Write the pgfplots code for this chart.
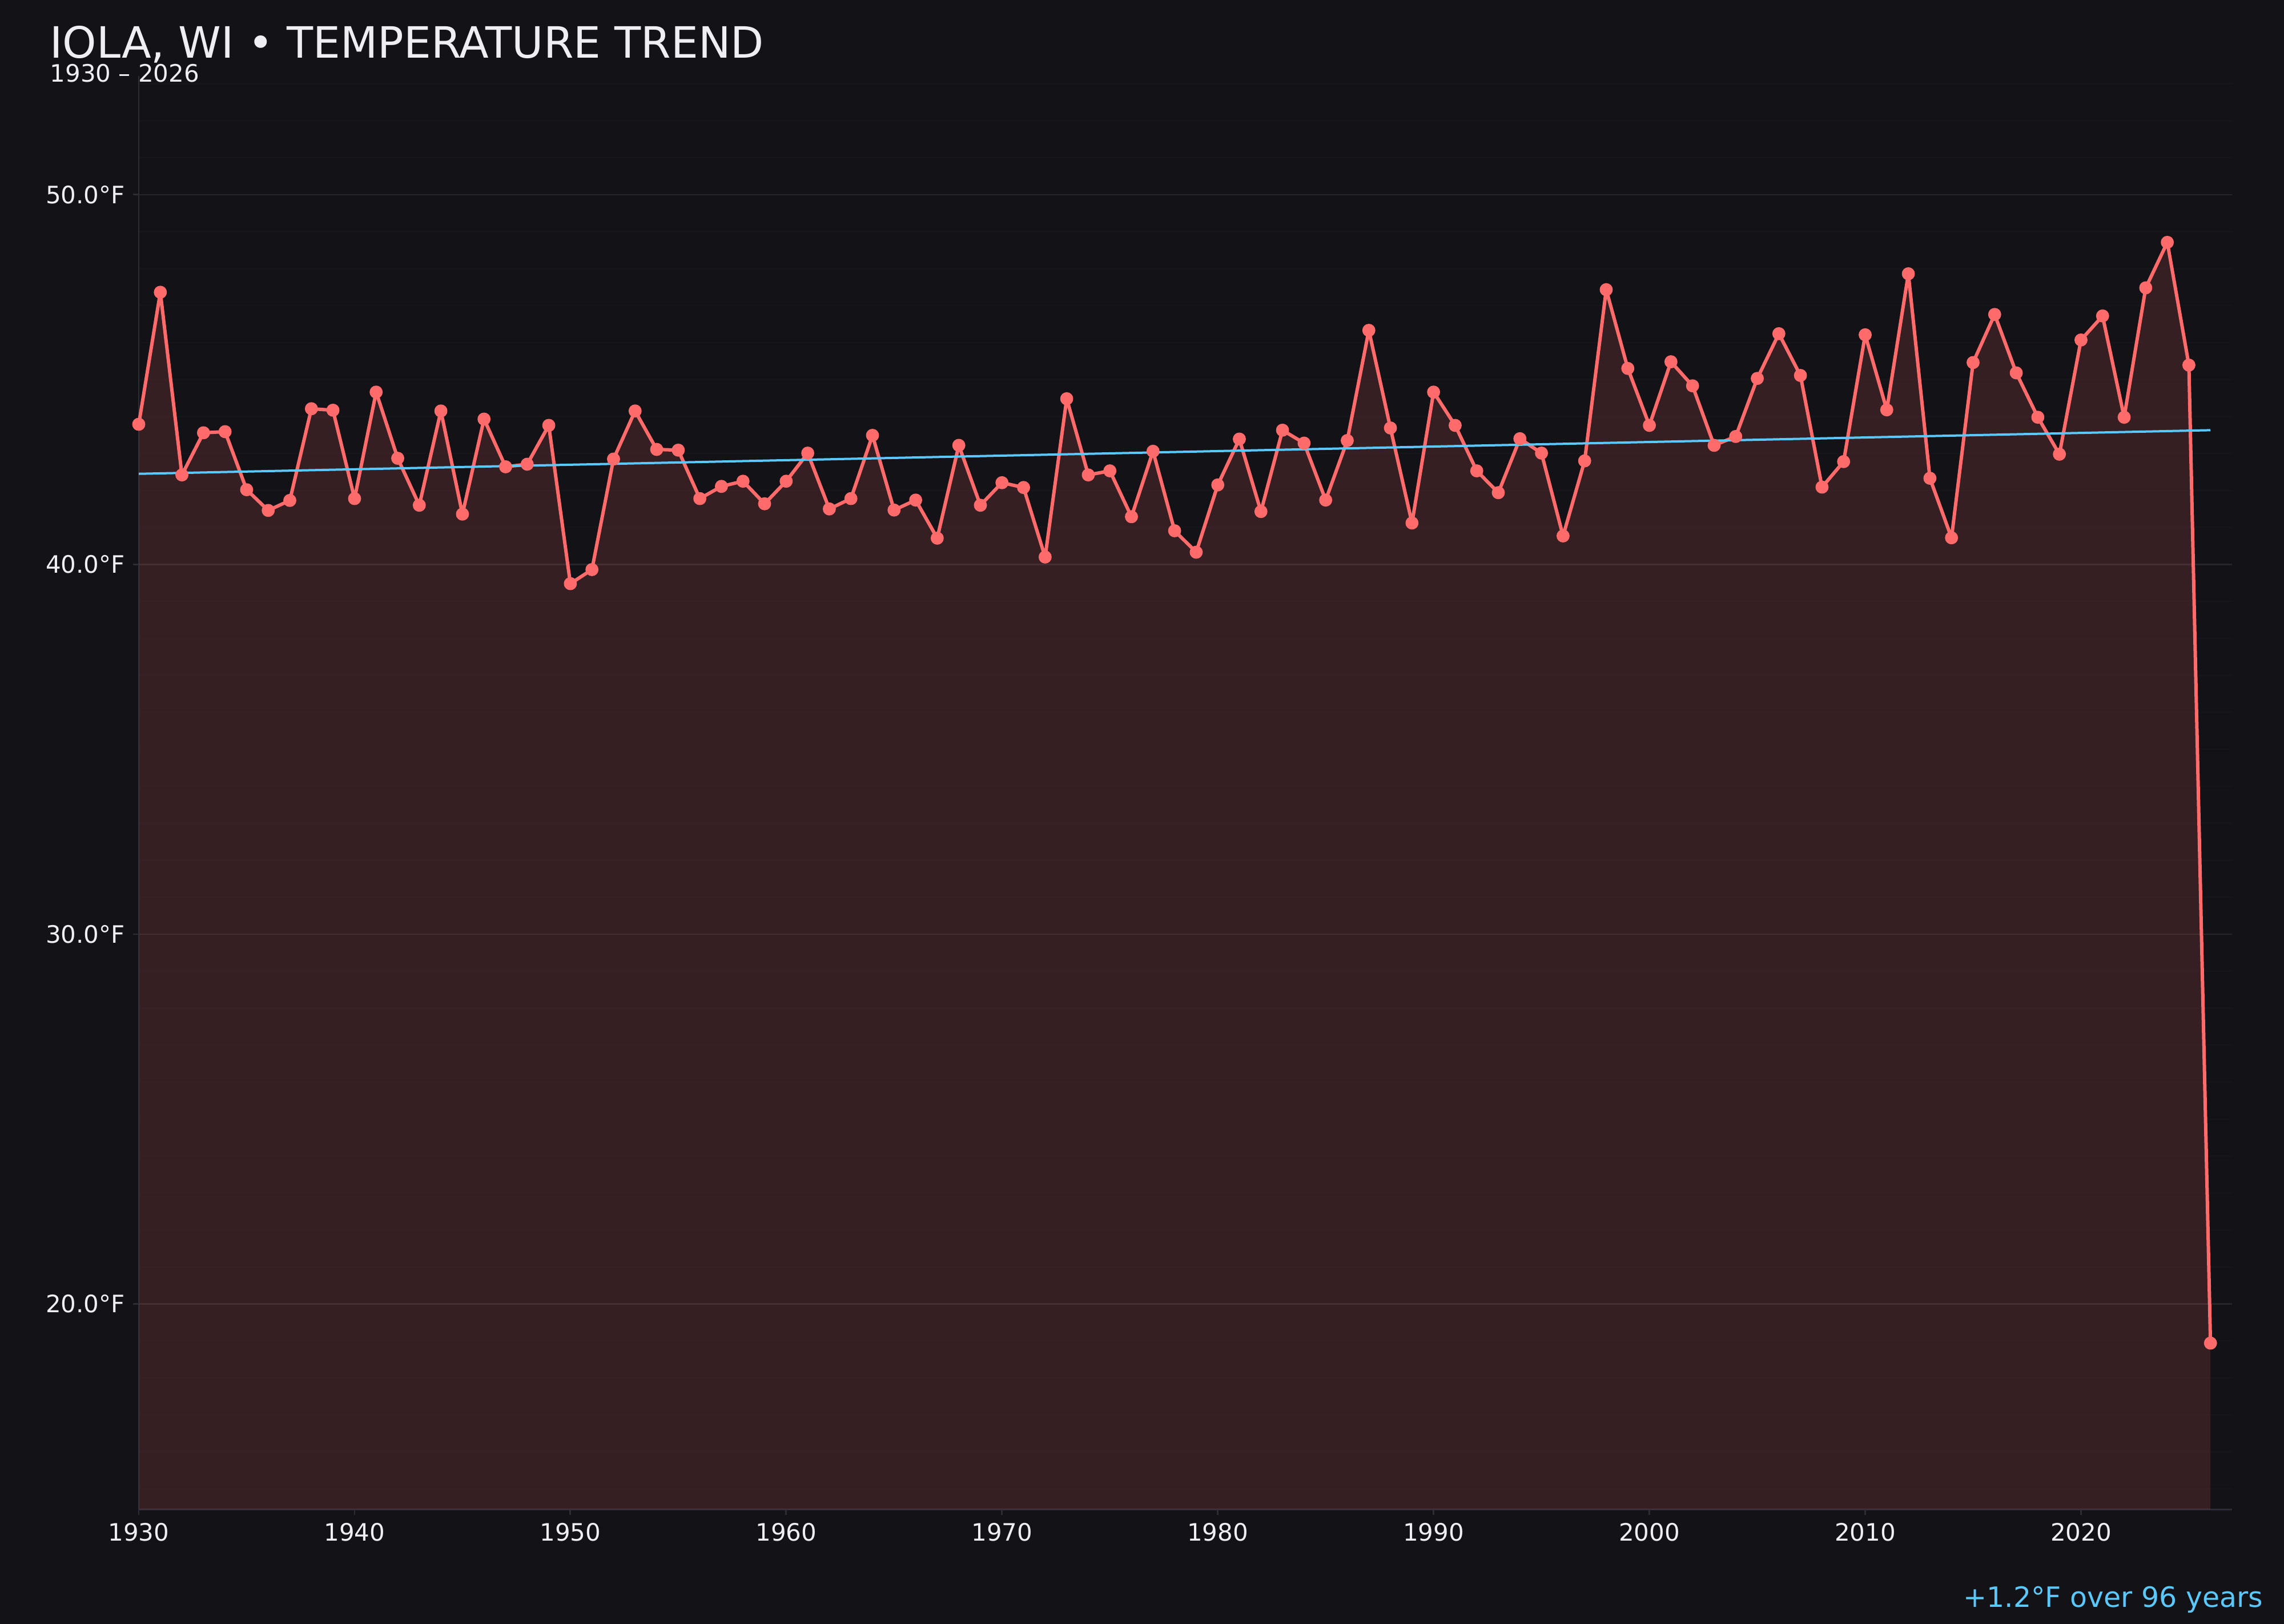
\documentclass[border=0pt]{standalone}
\usepackage{fontspec}
\setmainfont{DejaVu Sans}
\usepackage{pgfplots}
\usepackage{pgfplotstable}
\pgfplotsset{compat=1.18}
\definecolor{bg}{HTML}{131217}
\definecolor{txt}{HTML}{EEEEF3}
\definecolor{spine}{HTML}{2C2C35}
\definecolor{redline}{HTML}{FF6B6B}
\definecolor{trend}{HTML}{5AC8FA}

\pgfplotstableread{
year temp
1930 43.79
1931 47.36
1932 42.42
1933 43.56
1934 43.59
1935 42.02
1936 41.46
1937 41.73
1938 44.21
1939 44.17
1940 41.78
1941 44.66
1942 42.87
1943 41.60
1944 44.15
1945 41.36
1946 43.93
1947 42.64
1948 42.71
1949 43.76
1950 39.48
1951 39.86
1952 42.85
1953 44.15
1954 43.11
1955 43.09
1956 41.78
1957 42.11
1958 42.25
1959 41.64
1960 42.25
1961 43.01
1962 41.50
1963 41.78
1964 43.49
1965 41.47
1966 41.74
1967 40.71
1968 43.22
1969 41.60
1970 42.21
1971 42.08
1972 40.20
1973 44.48
1974 42.42
1975 42.53
1976 41.29
1977 43.06
1978 40.91
1979 40.33
1980 42.15
1981 43.39
1982 41.43
1983 43.63
1984 43.28
1985 41.74
1986 43.35
1987 46.33
1988 43.69
1989 41.12
1990 44.66
1991 43.76
1992 42.53
1993 41.94
1994 43.40
1995 43.01
1996 40.77
1997 42.80
1998 47.43
1999 45.30
2000 43.76
2001 45.48
2002 44.83
2003 43.22
2004 43.46
2005 45.03
2006 46.24
2007 45.11
2008 42.09
2009 42.78
2010 46.21
2011 44.18
2012 47.86
2013 42.33
2014 40.72
2015 45.46
2016 46.76
2017 45.18
2018 43.98
2019 42.98
2020 46.07
2021 46.72
2022 43.98
2023 47.48
2024 48.71
2025 45.39
2026 18.94
}\temps

\pgfplotstableread{
year temp
1930 14.44
1930 43.79
1931 47.36
1932 42.42
1933 43.56
1934 43.59
1935 42.02
1936 41.46
1937 41.73
1938 44.21
1939 44.17
1940 41.78
1941 44.66
1942 42.87
1943 41.60
1944 44.15
1945 41.36
1946 43.93
1947 42.64
1948 42.71
1949 43.76
1950 39.48
1951 39.86
1952 42.85
1953 44.15
1954 43.11
1955 43.09
1956 41.78
1957 42.11
1958 42.25
1959 41.64
1960 42.25
1961 43.01
1962 41.50
1963 41.78
1964 43.49
1965 41.47
1966 41.74
1967 40.71
1968 43.22
1969 41.60
1970 42.21
1971 42.08
1972 40.20
1973 44.48
1974 42.42
1975 42.53
1976 41.29
1977 43.06
1978 40.91
1979 40.33
1980 42.15
1981 43.39
1982 41.43
1983 43.63
1984 43.28
1985 41.74
1986 43.35
1987 46.33
1988 43.69
1989 41.12
1990 44.66
1991 43.76
1992 42.53
1993 41.94
1994 43.40
1995 43.01
1996 40.77
1997 42.80
1998 47.43
1999 45.30
2000 43.76
2001 45.48
2002 44.83
2003 43.22
2004 43.46
2005 45.03
2006 46.24
2007 45.11
2008 42.09
2009 42.78
2010 46.21
2011 44.18
2012 47.86
2013 42.33
2014 40.72
2015 45.46
2016 46.76
2017 45.18
2018 43.98
2019 42.98
2020 46.07
2021 46.72
2022 43.98
2023 47.48
2024 48.71
2025 45.39
2026 18.94
2026 14.44
}\tempsfill

\pgfplotstableread{
year temp
1930 42.45
2026 43.63
}\trendtab

\begin{document}
\begin{tikzpicture}
\path[use as bounding box] (0,0) rectangle (1000pt,711pt);
\fill[bg] (0,0) rectangle (1000pt,711pt);
\begin{axis}[
  at={(60.75pt,50.125pt)}, anchor=south west,
  scale only axis, width=916.5pt, height=627.6pt,
  xmin=1930, xmax=2027, ymin=14.44, ymax=53.21,
  axis x line*=bottom, axis y line*=left,
  axis line style={draw=spine, line width=0.7pt},
  xtick={1930,1940,...,2020},
  ytick={20,30,40,50},
  minor ytick={15,...,53},
  ymajorgrids, yminorgrids,
  major grid style={draw=white, draw opacity=0.07, line width=0.6pt},
  minor grid style={draw=white, draw opacity=0.015, line width=0.6pt},
  tick align=outside, major tick length=2.5pt, minor tick length=0pt,
  tick style={draw=spine, line width=0.7pt},
  /pgf/number format/assume math mode=true,
  tick label style={font=\fontsize{10.5}{12}\selectfont, text=txt},
  x tick label style={/pgf/number format/.cd, 1000 sep={}},
  yticklabel={\pgfmathprintnumber[fixed,fixed zerofill,precision=1]{\tick}°F},
  clip=false,
]
\addplot[draw=none, fill=redline, fill opacity=0.15] table[x=year,y=temp] {\tempsfill};
\addplot[redline, line width=1.5pt, line join=round, line cap=round, mark=*, mark size=2.1pt, mark options={fill=redline, draw=none}] table[x=year,y=temp] {\temps};
\addplot[trend, line width=1pt] table[x=year,y=temp] {\trendtab};
\end{axis}
\node[anchor=base west, inner sep=0pt, text=txt, font=\fontsize{18.9}{22}\selectfont] at (21.7pt,685.6pt) {IOLA, WI • TEMPERATURE TREND};
\node[anchor=base west, inner sep=0pt, text=txt, font=\fontsize{10.5}{12}\selectfont] at (21.7pt,675pt) {1930 – 2026};
\node[anchor=base east, inner sep=0pt, text=trend, font=\fontsize{12.25}{14}\selectfont] at (991pt,7.3pt) {+1.2°F over 96 years};
\end{tikzpicture}
\end{document}
